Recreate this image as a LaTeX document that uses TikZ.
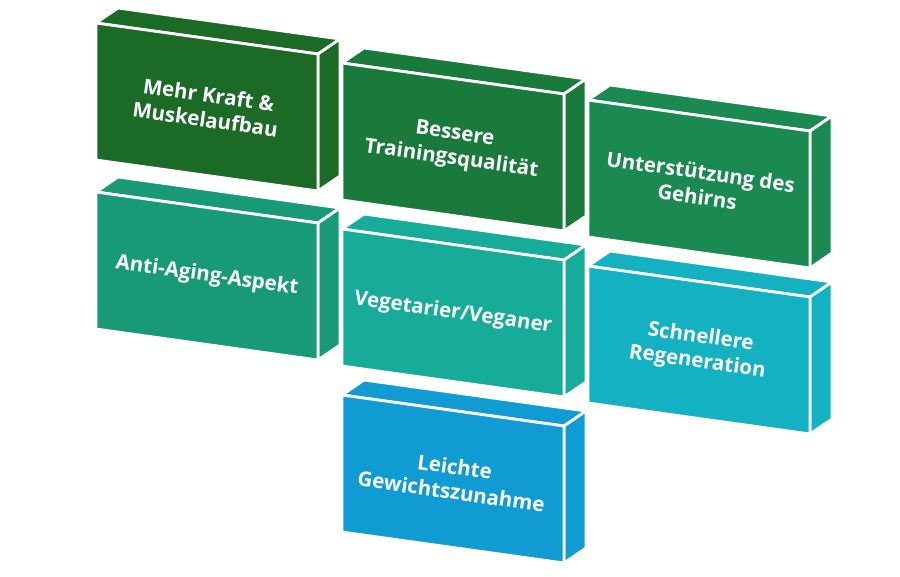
\documentclass[tikz,border=0pt]{standalone}
\usepackage{fontspec}
\setmainfont{Open Sans}
\usetikzlibrary{positioning,calc}

\definecolor{kraftgreen}{HTML}{1B6B27}
\definecolor{traininggreen}{HTML}{1A7A3B}
\definecolor{gehirngreen}{HTML}{1B8A52}
\definecolor{agingteal}{HTML}{189A76}
\definecolor{veganteal}{HTML}{17AB9A}
\definecolor{regencyan}{HTML}{14B1C3}
\definecolor{gewichtblue}{HTML}{109CD2}

% one slanted block: name, x, y, colour, text
\newcommand{\benefit}[5]{%
  \filldraw[face,fill=#4] (#2,#3) -- ++(22,-15) -- ++(222,31) -- ++(-22,15) -- cycle;
  \filldraw[face,fill=#4] (#2,#3) ++(222,31) -- ++(22,-15) -- ++(0,137) -- ++(-22,15) -- cycle;
  \filldraw[face,fill=#4] (#2,#3) -- ++(222,31) -- ++(0,137) -- ++(-222,-31) -- cycle;
  \node[benefit] (#1) at ($(#2,#3)+(111,84)$) {#5};
}

\begin{document}
\begin{tikzpicture}[
     x=1pt, y=-1pt,
     face/.style={draw=white,line width=2.8pt,line join=round},
     benefit/.style={text=white,align=center,rotate=-8,inner sep=1pt,
       font=\fontsize{20.5}{25}\selectfont\bfseries}]

    \useasboundingbox (0,0) rectangle (900,577);

    % left column
    \benefit{kraft}{96}{23}{kraftgreen}{Mehr Kraft \&\\Muskelaufbau}
    \benefit{aging}{96}{192}{agingteal}{Anti-Aging-Aspekt}

    % middle column
    \benefit{training}{342}{63}{traininggreen}{Bessere\\Trainingsqualität}
    \benefit{vegan}{342}{229}{veganteal}{Vegetarier/Veganer}
    \benefit{gewicht}{342}{395}{gewichtblue}{Leichte\\Gewichtszunahme}

    % right column
    \benefit{gehirn}{588}{100}{gehirngreen}{Unterstützung des\\Gehirns}
    \benefit{regeneration}{588}{266}{regencyan}{Schnellere\\Regeneration}

\end{tikzpicture}
\end{document}
